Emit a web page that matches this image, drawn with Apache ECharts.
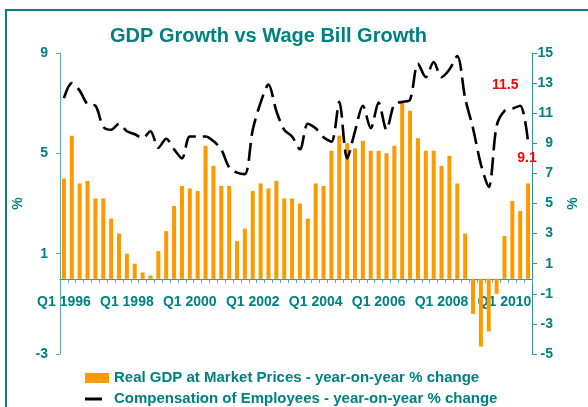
<!DOCTYPE html>
<html>
<head>
<meta charset="utf-8">
<script src="https://cdn.jsdelivr.net/npm/echarts@6/dist/echarts.min.js"></script>
<style>
  html, body { margin: 0; padding: 0; background: #fff; }
  #chart { width: 588px; height: 407px; }
</style>
</head>
<body>
<div id="chart"></div>
<script>
  // quarters Q1 1996 .. Q4 2010
  var years = [1996, 1997, 1998, 1999, 2000, 2001, 2002, 2003, 2004, 2005, 2006, 2007, 2008, 2009, 2010]
  var quarters = []
  years.forEach(function (y) {
    ['Q1', 'Q2', 'Q3', 'Q4'].forEach(function (q) { quarters.push(q + ' ' + y) })
  })

  // Real GDP, year-on-year % (left axis)
  var gdp = [
    4.0, 5.7, 3.8, 3.9, 3.2, 3.2, 2.4, 1.8, 1.0, 0.6,
    0.25, 0.13, 1.1, 1.9, 2.9, 3.7, 3.6, 3.5, 5.3, 4.5,
    3.7, 3.7, 1.5, 2.0, 3.5, 3.8, 3.6, 3.9, 3.2, 3.2,
    3.0, 2.4, 3.8, 3.7, 5.1, 5.7, 5.4, 5.2, 5.5, 5.1,
    5.1, 5.0, 5.3, 7.1, 6.7, 5.6, 5.1, 5.1, 4.5, 4.9,
    3.8, 1.8, -1.4, -2.7, -2.1, -0.6, 1.7, 3.1, 2.7, 3.8
  ]

  // Compensation of employees, year-on-year % (right axis)
  var wages = [
    12.0, 13.0, 12.5, 11.6, 11.5, 10.1, 9.9, 10.3, 9.8, 9.6,
    9.35, 9.8, 8.7, 9.3, 8.6, 8.0, 9.45, 9.45, 9.45, 9.15,
    8.6, 7.4, 7.05, 6.95, 9.9, 11.7, 12.9, 11.15, 9.9, 9.45,
    8.6, 10.3, 10.0, 9.4, 9.1, 11.75, 8.0, 9.8, 11.5, 10.0,
    11.7, 9.9, 11.6, 11.75, 11.9, 14.3, 13.4, 14.4, 13.4, 13.9,
    14.8, 12.0, 10.0, 7.6, 6.1, 10.15, 11.15, 11.3, 11.5, 9.1
  ]

  var leftTicks = { min: -3, max: 9, step: 4 }
  var rightTicks = { min: -5, max: 15, step: 2 }

  var teal = '#008080'
  var axisTeal = '#5aaeae'
  var gdpName = 'Real GDP at Market Prices - year-on-year % change'
  var wageName = 'Compensation of Employees - year-on-year % change'

  var wageData = wages.map(function (v, i) {
    if (i === 58) {
      return { value: v, label: { show: true, position: 'top', offset: [-15, -8] } }
    }
    if (i === wages.length - 1) {
      return { value: v, label: { show: true, position: 'bottom', offset: [-1, 4] } }
    }
    return v
  })

  var chart = echarts.init(document.getElementById('chart'), null, { renderer: 'canvas' })
  chart.setOption({
    animation: false,
    backgroundColor: '#fff',
    textStyle: { fontFamily: 'Liberation Sans, Arial, sans-serif' },
    title: {
      text: 'GDP Growth vs Wage Bill Growth',
      left: 105,
      top: 21,
      textStyle: { color: teal, fontSize: 20, fontWeight: 'bold', fontFamily: 'Liberation Sans, Arial, sans-serif' }
    },
    graphic: [{
      type: 'rect',
      shape: { x: 6, y: 10, width: 620, height: 440 },
      style: { fill: 'none', stroke: '#127c7c', lineWidth: 2 },
      silent: true
    }],
    legend: [
      {
        left: 80,
        top: 365,
        itemWidth: 24,
        itemHeight: 10,
        selectedMode: false,
        data: [{ name: gdpName, icon: 'rect' }],
        textStyle: { color: teal, fontSize: 15, fontWeight: 'bold', lineHeight: 16 }
      },
      {
        left: 80,
        top: 386,
        itemWidth: 17,
        itemHeight: 3,
        selectedMode: false,
        data: [{ name: wageName, icon: 'rect', itemStyle: { color: '#000' } }],
        textStyle: { color: teal, fontSize: 15, fontWeight: 'bold', lineHeight: 16, padding: [0, 0, 0, 7] }
      }
    ],
    grid: { left: 60, right: 55, top: 53, bottom: 53 },
    xAxis: {
      type: 'category',
      data: quarters,
      offset: -75,
      z: 0,
      axisLine: { onZero: false, lineStyle: { color: '#2f9595', width: 1 } },
      axisTick: { show: true, interval: 0, length: 4, lineStyle: { color: axisTeal } },
      axisLabel: {
        interval: 7,
        margin: 16,
        color: teal,
        fontSize: 14,
        fontWeight: 'bold'
      },
      splitLine: { show: false }
    },
    yAxis: [
      {
        type: 'value',
        min: leftTicks.min,
        max: leftTicks.max,
        interval: leftTicks.step,
        name: '%',
        nameLocation: 'middle',
        nameGap: 28,
        nameRotate: 90,
        nameTextStyle: { color: teal, fontSize: 14, fontWeight: 'bold' },
        axisLine: { show: true, lineStyle: { color: axisTeal } },
        axisTick: { show: true, length: 4, lineStyle: { color: axisTeal } },
        axisLabel: { color: teal, fontSize: 14, fontWeight: 'bold', margin: 12 },
        splitLine: { show: false }
      },
      {
        type: 'value',
        min: rightTicks.min,
        max: rightTicks.max,
        interval: rightTicks.step,
        position: 'right',
        name: '%',
        nameLocation: 'middle',
        nameGap: 34,
        nameRotate: 90,
        nameTextStyle: { color: teal, fontSize: 14, fontWeight: 'bold' },
        axisLine: { show: true, lineStyle: { color: '#2f9595' } },
        axisTick: { show: true, length: 5, lineStyle: { color: '#2f9595' } },
        axisLabel: { color: teal, fontSize: 14, fontWeight: 'bold', margin: 21, align: 'right' },
        splitLine: { show: false }
      }
    ],
    series: [
      {
        name: gdpName,
        type: 'bar',
        yAxisIndex: 0,
        z: 5,
        barWidth: 4,
        itemStyle: { color: '#ff9900' },
        data: gdp
      },
      {
        name: wageName,
        type: 'line',
        yAxisIndex: 1,
        z: 6,
        smooth: 0.3,
        showSymbol: true,
        symbol: 'circle',
        symbolSize: 0.1,
        itemStyle: { color: '#000' },
        lineStyle: { color: '#000', width: 2.6, type: [18, 7] },
        label: { show: false, color: '#ff0000', fontSize: 14, fontWeight: 'bold' },
        data: wageData
      }
    ]
  })
</script>
</body>
</html>
